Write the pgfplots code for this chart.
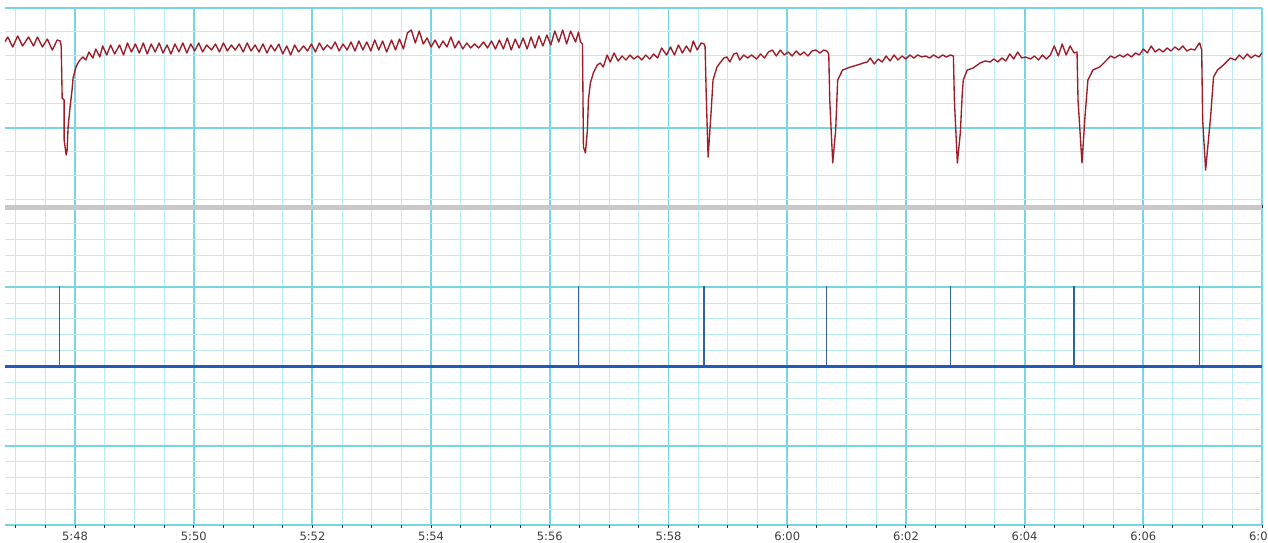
\documentclass[border=0pt]{standalone}
\usepackage{pgfplots}
\pgfplotsset{compat=1.18}
\usepackage{fontspec}
\setmainfont{DejaVu Sans}
\definecolor{gridmaj}{RGB}{120,214,226}
\definecolor{gridmin}{RGB}{186,236,242}
\definecolor{sigred}{RGB}{158,28,40}
\definecolor{baseblue}{RGB}{36,88,186}
\definecolor{spikeblue}{RGB}{52,96,160}
\definecolor{barcol}{RGB}{200,200,200}
\definecolor{lblcol}{RGB}{60,60,60}
\begin{document}
\begin{tikzpicture}[x=1pt,y=1pt]
\useasboundingbox (0,0) rectangle (1268,543);
\fill[white] (0,0) rectangle (1268,543);
% ---------------- top panel ----------------
\begin{axis}[
  at={(5pt,338pt)}, anchor=south west,
  width=1257pt, height=197pt, scale only axis,
  xmin=49.2, xmax=1320, ymin=-77, ymax=120,
  xtick={120,240,360,480,600,720,840,960,1080,1200,1320},
  minor xtick={60,90,150,180,210,270,300,330,390,420,450,510,540,570,630,660,690,750,780,810,870,900,930,990,1020,1050,1110,1140,1170,1230,1260,1290},
  ytick={0,120}, minor ytick={-72,-48,-24,24,48,72,96},
  xticklabels={}, yticklabels={},
  grid=both,
  major grid style={draw=gridmaj, line width=1.9pt},
  minor grid style={draw=gridmin, line width=1pt},
  axis line style={draw=none},
  major tick length=0pt, minor tick length=0pt,
]
\addplot[sigred, line width=1.35pt, line join=round] coordinates {
(49,86)(52,91)(57,81)(62,92)(67,82)(73,91)(78,82)(82,91)(87,81)(92,89)(97,78)(102,88)(105,87)(106,82)
(107,30)(109,28)(109,-12)(111,-27)(112,-22)(113,1)(115,21)(117,38)(118,50)(121,61)(123,65)(125,68)
(128,71)(131,68)(134,76)(138,70)(141,79)(145,71)(148,82)(152,73)(156,83)(160,74)(165,83)(169,73)
(173,85)(177,76)(181,84)(185,75)(189,85)(193,74)(197,84)(201,76)(205,85)(209,75)(213,83)(217,74)
(221,84)(225,76)(229,85)(233,75)(237,84)(241,77)(245,85)(249,76)(253,83)(258,78)(262,84)(266,76)
(270,85)(274,77)(278,83)(282,78)(286,84)(290,76)(294,85)(298,77)(302,83)(306,76)(310,84)(314,75)
(318,83)(322,77)(326,84)(330,74)(334,82)(338,73)(342,83)(346,76)(351,82)(355,77)(359,84)(363,76)
(367,85)(371,78)(375,83)(379,79)(383,86)(387,77)(391,84)(395,78)(399,86)(403,77)(407,87)(411,78)
(415,86)(419,77)(423,88)(427,78)(431,87)(435,76)(440,88)(444,78)(448,89)(452,79)(456,95)(460,98)
(464,85)(468,97)(472,84)(476,90)(480,81)(484,88)(488,80)(492,87)(496,81)(500,91)(504,80)(508,87)
(512,79)(516,85)(520,80)(524,84)(528,80)(533,86)(537,80)(541,87)(545,79)(549,88)(553,79)(557,90)
(561,78)(565,89)(569,80)(573,90)(577,79)(581,91)(585,80)(589,92)(593,82)(597,93)(601,83)(605,97)
(609,86)(613,98)(617,84)(621,97)(626,86)(629,96)(631,86)(633,84)
(634,-19)(636,-25)(638,-2)(639,28)(641,45)(644,55)(648,63)(651,65)(654,61)(658,73)(661,66)(665,75)
(669,67)(673,72)(677,68)(681,73)(685,69)(689,72)(693,68)(697,73)(701,69)(705,74)(709,70)(713,80)
(718,73)(722,81)(726,73)(730,83)(734,75)(738,82)(742,76)(745,87)(749,78)(753,85)(756,84)(757,81)
(758,38)(760,-29)(763,15)(765,48)(769,61)(772,65)(776,70)(779,71)(782,66)(786,74)(789,75)(792,68)
(796,73)(800,70)(804,73)(809,69)(813,74)(817,70)(821,76)(825,78)(829,72)(833,78)(837,73)(841,76)
(845,72)(849,77)(853,73)(857,76)(861,72)(865,77)(869,78)(873,75)(877,78)(880,77)(882,74)
(883,28)(886,-35)(889,-2)(891,48)(896,58)(904,61)(911,63)(917,65)(921,66)(924,70)(928,64)(932,69)
(936,66)(940,72)(944,67)(948,73)(952,68)(956,72)(960,69)(964,73)(968,70)(972,73)(976,71)(980,72)
(984,70)(988,73)(993,70)(997,73)(1001,71)(1005,73)(1008,72)
(1009,28)(1012,-35)(1015,-5)(1017,35)(1018,48)(1022,58)(1028,60)(1035,65)(1040,67)(1045,66)
(1049,69)(1053,66)(1057,70)(1061,67)(1065,74)(1069,69)(1073,76)(1077,70)(1081,71)(1086,69)(1090,72)
(1094,68)(1098,73)(1102,69)(1106,73)(1110,82)(1114,72)(1118,84)(1122,73)(1126,82)(1130,75)(1133,76)
(1134,28)(1138,-35)(1141,11)(1144,48)(1149,58)(1156,61)(1163,68)(1167,72)(1171,70)(1176,73)(1180,71)
(1184,74)(1188,71)(1192,75)(1196,73)(1200,79)(1204,75)(1208,82)(1212,76)(1216,79)(1220,76)(1224,80)
(1228,77)(1232,81)(1236,78)(1240,82)(1244,77)(1248,79)(1252,78)(1256,84)(1257,85)(1259,78)
(1260,8)(1263,-42)(1268,11)(1271,51)(1275,58)(1281,63)(1288,70)(1293,68)(1297,73)(1301,69)(1305,74)
(1309,70)(1313,73)(1317,71)(1320,75)
};
\end{axis}
% ---------------- bottom panel ----------------
\begin{axis}[
  at={(5pt,18pt)}, anchor=south west,
  width=1257pt, height=317pt, scale only axis,
  xmin=49.2, xmax=1320, ymin=0, ymax=20,
  xtick={120,240,360,480,600,720,840,960,1080,1200,1320},
  xticklabels={5:48,5:50,5:52,5:54,5:56,5:58,6:00,6:02,6:04,6:06,6:08},
  minor xtick={60,90,150,180,210,270,300,330,390,420,450,510,540,570,630,660,690,750,780,810,870,900,930,990,1020,1050,1110,1140,1170,1230,1260,1290},
  ytick={0,5,10,15,20}, minor ytick={1,2,3,4,6,7,8,9,11,12,13,14,16,17,18,19},
  yticklabels={},
  grid=both,
  major grid style={draw=gridmaj, line width=1.9pt},
  minor grid style={draw=gridmin, line width=1pt},
  axis line style={draw=none},
  major tick length=0pt, minor tick length=0pt,
  extra x ticks={60,90,120,150,180,210,240,270,300,330,360,390,420,450,480,510,540,570,600,630,660,690,720,750,780,810,840,870,900,930,960,990,1020,1050,1080,1110,1140,1170,1200,1230,1260,1290,1320},
  extra x tick labels={},
  extra x tick style={grid=none, tick align=outside, major tick length=3pt,
     tick style={draw=black!80, line width=1pt}},
  xticklabel style={font=\fontsize{11.5}{13}\selectfont, text=lblcol, inner sep=1pt, yshift=-6pt},
  clip=true,
]
\addplot[baseblue, line width=2.3pt] coordinates {(49.2,10) (1320,10)};
\addplot[spikeblue, line width=1.3pt] coordinates {(104,10) (104,15.1)};
\addplot[spikeblue, line width=1.3pt] coordinates {(629,10) (629,15.1)};
\addplot[spikeblue, line width=1.3pt] coordinates {(756,10) (756,15.1)};
\addplot[spikeblue, line width=1.3pt] coordinates {(880,10) (880,15.1)};
\addplot[spikeblue, line width=1.3pt] coordinates {(1005,10) (1005,15.1)};
\addplot[spikeblue, line width=1.3pt] coordinates {(1130,10) (1130,15.1)};
\addplot[spikeblue, line width=1.3pt] coordinates {(1257,10) (1257,15.1)};
\end{axis}
% separator bar
\fill[barcol] (5,333) rectangle (1262,338);
\end{tikzpicture}
\end{document}
